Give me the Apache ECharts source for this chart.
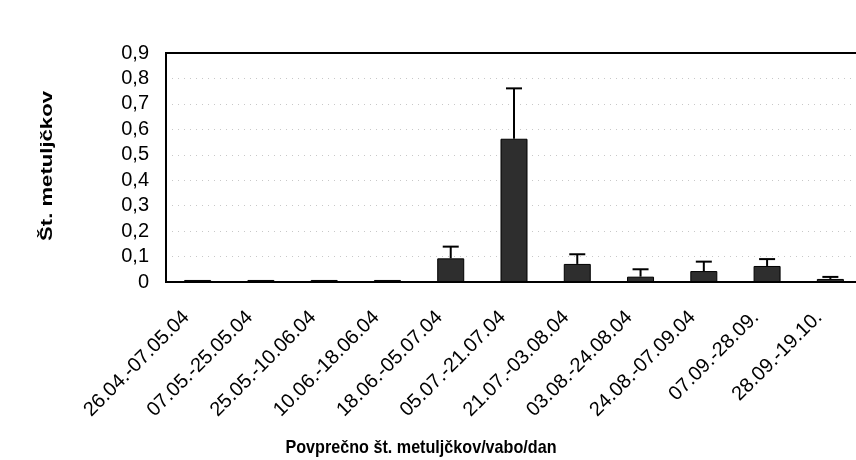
<!DOCTYPE html>
<html>
<head>
<meta charset="utf-8">
<script src="https://cdn.jsdelivr.net/npm/echarts@6/dist/echarts.min.js"></script>
<style>
html,body{margin:0;padding:0;background:#fff;}
#main{width:856px;height:460px;}
</style>
</head>
<body>
<div id="main"></div>
<script>
var categories = ['26.04.-07.05.04', '07.05.-25.05.04', '25.05.-10.06.04', '10.06.-18.06.04',
	'18.06.-05.07.04', '05.07.-21.07.04', '21.07.-03.08.04', '03.08.-24.08.04',
	'24.08.-07.09.04', '07.09.-28.09.', '28.09.-19.10.'];
var means = [0.008, 0.008, 0.008, 0.008, 0.093, 0.563, 0.071, 0.021, 0.043, 0.063, 0.012];
var upper = [null, null, null, null, 0.139, 0.761, 0.109, 0.05, 0.08, 0.09, 0.02];
var yMax = 0.9;
var yStep = 0.1;

var font = '"Liberation Sans", Arial, sans-serif';

//error bar data: [index, mean, upper]
var errData = [];
for (var i = 0; i < means.length; i++) {
	if (upper[i] != null) errData.push([i, means[i], upper[i]]);
}

var container = document.getElementById('main');
var myChart = echarts.init(container);
var option = {
	backgroundColor: '#fff',
	animation: false,
	grid: {
		left: 166,
		top: 53,
		width: 696,
		height: 229,
		show: true,
		borderColor: '#000',
		borderWidth: 2,
		outerBoundsMode: 'none'
	},
	xAxis: {
		type: 'category',
		data: categories,
		axisLine: {lineStyle: {color: '#000', width: 2}},
		axisTick: {show: false},
		axisLabel: {
			interval: 0,
			rotate: 45,
			margin: 21,
			padding: [0, 16, 0, 0],
			color: '#000',
			fontSize: 20,
			fontFamily: font
		}
	},
	yAxis: {
		type: 'value',
		min: 0,
		max: yMax,
		interval: yStep,
		axisLine: {show: true, lineStyle: {color: '#000', width: 2}},
		axisTick: {show: false},
		axisLabel: {
			margin: 17,
			color: '#000',
			fontSize: 20,
			fontFamily: font,
			formatter: function (v) {
				if (v === 0) return '0';
				return v.toFixed(1).replace('.', ',');
			}
		},
		splitLine: {
			showMinLine: false,
			showMaxLine: false,
			lineStyle: {color: '#c8c8c8', type: [1, 5], width: 1}
		}
	},
	graphic: [
		{
			type: 'text',
			x: 421,
			y: 448,
			scaleX: 0.85,
			style: {
				text: 'Povprečno št. metuljčkov/vabo/dan',
				font: 'bold 19px ' + font,
				fill: '#000',
				textAlign: 'center',
				textVerticalAlign: 'middle'
			}
		},
		{
			type: 'text',
			x: 47,
			y: 166,
			rotation: Math.PI / 2,
			scaleX: 1.3,
			style: {
				text: 'Št. metuljčkov',
				font: 'bold 17px ' + font,
				fill: '#000',
				textAlign: 'center',
				textVerticalAlign: 'middle'
			}
		}
	],
	series: [
		{
			type: 'bar',
			data: means,
			barWidth: 27,
			itemStyle: {color: '#2e2e2e', borderColor: '#000', borderWidth: 1}
		},
		{
			type: 'custom',
			data: errData,
			z: 5,
			renderItem: function (params, api) {
				var idx = api.value(0);
				var lo = api.coord([idx, api.value(1)]);
				var hi = api.coord([idx, api.value(2)]);
				var half = 8;
				var st = {stroke: '#000', lineWidth: 2};
				return {
					type: 'group',
					children: [
						{type: 'line', shape: {x1: lo[0], y1: lo[1], x2: hi[0], y2: hi[1]}, style: st},
						{type: 'line', shape: {x1: hi[0] - half, y1: hi[1], x2: hi[0] + half, y2: hi[1]}, style: st}
					]
				};
			}
		}
	]
};
myChart.setOption(option);
</script>
</body>
</html>
